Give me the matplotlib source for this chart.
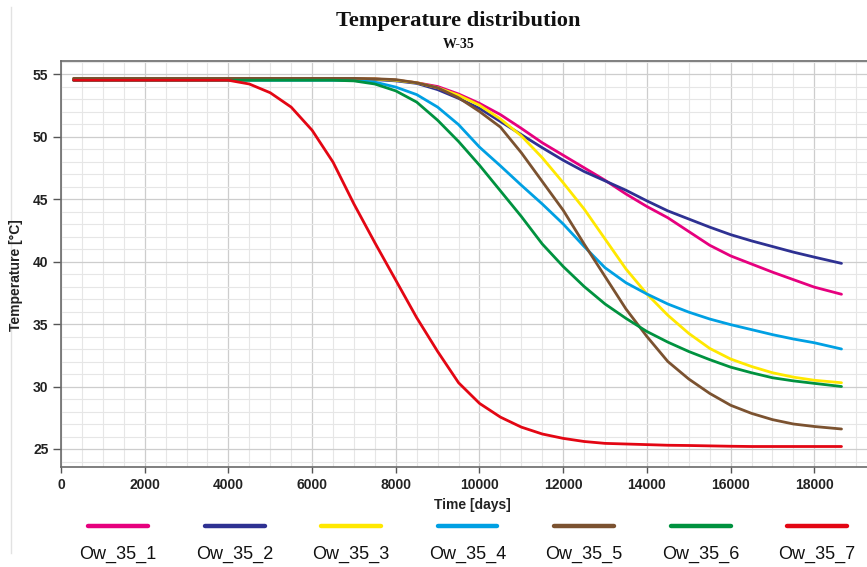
import matplotlib
matplotlib.use("Agg")
import matplotlib.pyplot as plt
from matplotlib.lines import Line2D
from matplotlib.ticker import MultipleLocator

# Time axis (days), shared by all wells
time_days = [300, 2000, 4000, 4500, 5000, 5500, 6000, 6500, 7000, 7500,
             8000, 8500, 9000, 9500, 10000, 10500, 11000, 11500, 12000, 12500,
             13000, 13500, 14000, 14500, 15000, 15500, 16000, 16500, 17000,
             17500, 18000, 18650]

# Temperatures [°C]
ow_35_1 = [54.6, 54.6, 54.6, 54.6, 54.6, 54.6, 54.6, 54.6, 54.6, 54.6,
           54.5, 54.3, 54.0, 53.4, 52.65, 51.75, 50.65, 49.5, 48.5, 47.5,
           46.5, 45.4, 44.4, 43.5, 42.4, 41.3, 40.45, 39.8, 39.15,
           38.55, 37.95, 37.38]
ow_35_2 = [54.6, 54.6, 54.6, 54.6, 54.6, 54.6, 54.6, 54.6, 54.6, 54.55,
           54.45, 54.25, 53.75, 53.05, 52.25, 51.2, 50.15, 49.1, 48.1, 47.2,
           46.45, 45.7, 44.85, 44.05, 43.4, 42.75, 42.15, 41.65, 41.2,
           40.75, 40.35, 39.85]
ow_35_3 = [54.6, 54.6, 54.6, 54.6, 54.6, 54.6, 54.6, 54.6, 54.6, 54.6,
           54.5, 54.3, 53.9, 53.3, 52.5, 51.4, 50.05, 48.3, 46.3, 44.2,
           41.8, 39.4, 37.4, 35.7, 34.25, 33.05, 32.2, 31.6, 31.1,
           30.75, 30.5, 30.3]
ow_35_4 = [54.5, 54.5, 54.5, 54.5, 54.5, 54.5, 54.5, 54.5, 54.48, 54.35,
           53.95, 53.35, 52.35, 50.95, 49.15, 47.65, 46.1, 44.6, 43.0, 41.2,
           39.5, 38.3, 37.4, 36.6, 35.95, 35.4, 34.95, 34.55, 34.15,
           33.8, 33.5, 33.0]
ow_35_5 = [54.65, 54.65, 54.65, 54.65, 54.65, 54.65, 54.65, 54.65, 54.65, 54.62,
           54.55, 54.3, 53.9, 53.1, 52.0, 50.75, 48.7, 46.4, 44.1, 41.4,
           38.8, 36.2, 34.0, 32.0, 30.6, 29.45, 28.5, 27.85, 27.35,
           27.0, 26.8, 26.6]
ow_35_6 = [54.5, 54.5, 54.5, 54.5, 54.5, 54.5, 54.5, 54.5, 54.45, 54.2,
           53.65, 52.75, 51.3, 49.6, 47.7, 45.65, 43.6, 41.4, 39.6, 38.0,
           36.6, 35.45, 34.4, 33.55, 32.8, 32.15, 31.55, 31.1, 30.7,
           30.45, 30.25, 30.0]
ow_35_7 = [54.5, 54.5, 54.5, 54.2, 53.5, 52.35, 50.5, 47.95, 44.6, 41.5,
           38.5, 35.5, 32.8, 30.3, 28.65, 27.55, 26.75, 26.2, 25.85, 25.6,
           25.45, 25.4, 25.35, 25.3, 25.28, 25.25, 25.22, 25.2, 25.2,
           25.2, 25.2, 25.2]

labels = ["Ow_35_1", "Ow_35_2", "Ow_35_3", "Ow_35_4", "Ow_35_5", "Ow_35_6", "Ow_35_7"]
series = [ow_35_1, ow_35_2, ow_35_3, ow_35_4, ow_35_5, ow_35_6, ow_35_7]
colors = ["#E6007E", "#2E3192", "#FFE800", "#00A0E3", "#7B5230", "#00923F", "#E30613"]
# drawing order (last on top)
draw_order = [2, 0, 1, 3, 5, 4, 6]

fig = plt.figure(figsize=(8.67, 5.67), dpi=100)
W, H = 867, 567

# Axes placed in pixel coords of the reference
ax = fig.add_axes([61 / W, (H - 467) / H, (880 - 61) / W, (467 - 61) / H])

for i in draw_order:
    ax.plot(time_days, series[i], color=colors[i], linewidth=2.0,
            solid_capstyle="round", solid_joinstyle="round", zorder=3 + i * 0.1)

ax.set_xlim(0, 19570)
ax.set_ylim(23.56, 56.04)

# Ticks and grid
ax.xaxis.set_major_locator(MultipleLocator(2000))
ax.xaxis.set_minor_locator(MultipleLocator(500))
ax.yaxis.set_major_locator(MultipleLocator(5))
ax.yaxis.set_minor_locator(MultipleLocator(1))
ax.grid(True, which="major", color="#cdcdcd", linewidth=0.9, zorder=0)
ax.grid(True, which="minor", color="#e6e6e6", linewidth=0.8, zorder=0)
ax.set_axisbelow(True)

ax.tick_params(axis="x", which="major", direction="out", length=4, width=1,
               color="#555555", labelsize=10, pad=4, labelcolor="#222222")
ax.tick_params(axis="y", which="major", direction="out", length=6, width=1,
               color="#555555", labelsize=10, pad=3, labelcolor="#222222")
ax.tick_params(which="minor", length=0)
for lab in ax.get_xticklabels() + ax.get_yticklabels():
    lab.set_fontweight("bold")
    lab.set_fontfamily("Liberation Sans")

for side in ["left", "bottom", "top"]:
    ax.spines[side].set_color("#6a6a6a")
    ax.spines[side].set_linewidth(1.2)
ax.spines["right"].set_visible(False)

# Axis labels
fig.text(472 / W, 1 - 505 / H, "Time [days]", ha="center", va="center",
         fontsize=10, fontweight="bold", family="Liberation Sans", color="#222222")
fig.text(16 / W, 1 - 275 / H, "Temperature [°C]", ha="center", va="center",
         rotation=90, fontsize=10, fontweight="bold", family="Liberation Sans",
         color="#222222")

# Title and subtitle
fig.text(458 / W, 1 - 21 / H, "Temperature distribution", ha="center", va="center",
         fontsize=16.2, fontweight="bold", family="Liberation Serif", color="#111111")
fig.text(459 / W, 1 - 45 / H, "W-35", ha="center", va="center",
         fontsize=10, fontweight="bold", family="Liberation Serif", color="#111111")

# Legend: colored stroke with name underneath
for k, (lab, col) in enumerate(zip(labels, colors)):
    cx = 118 + 116.5 * k
    fig.add_artist(Line2D([(cx - 30) / W, (cx + 30) / W], [1 - 526 / H, 1 - 526 / H],
                          color=col, linewidth=3.2, solid_capstyle="round"))
    fig.text(cx / W, 1 - 554 / H, lab, ha="center", va="center",
             fontsize=13, family="Liberation Sans", color="#111111")

# faint left frame line
fig.add_artist(Line2D([11 / W, 11 / W], [1 - 7 / H, 1 - 553 / H],
                      color="#e2e2e2", linewidth=1))

fig.savefig("out.png", dpi=100)
